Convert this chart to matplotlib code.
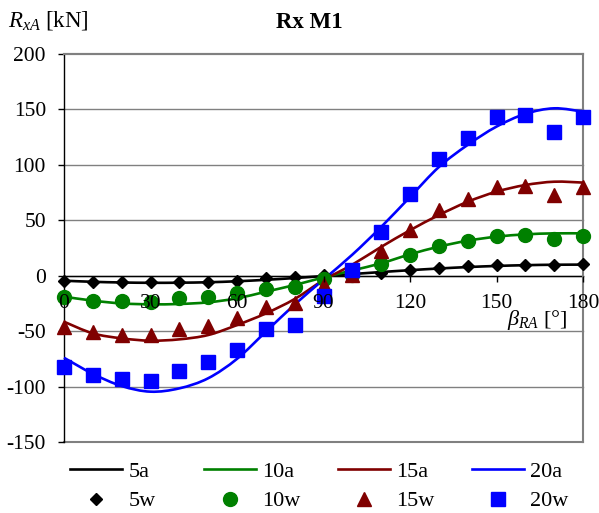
import matplotlib
matplotlib.use("Agg")
import matplotlib.pyplot as plt
from matplotlib.path import Path
from matplotlib.patches import PathPatch

plt.rcParams['font.family'] = ['Liberation Serif', 'DejaVu Serif']
plt.rcParams['mathtext.fontset'] = 'custom'
plt.rcParams['mathtext.rm'] = 'Liberation Serif'
plt.rcParams['mathtext.it'] = 'Liberation Serif:italic'
plt.rcParams['axes.unicode_minus'] = False

# kąt beta_RA [deg]
beta = [0, 10, 20, 30, 40, 50, 60, 70, 80, 90, 100, 110, 120, 130, 140, 150, 160, 170, 180]

# analityczne (a)
r5a = [-4.5, -5.5, -6.1, -6.4, -6.3, -5.9, -5.0, -3.7, -2.1, -0.3, 1.5, 3.3, 5.0, 6.5, 7.8, 8.8, 9.5, 9.9, 10.0]
r10a = [-18.9, -22.5, -25.0, -25.8, -25.5, -24.0, -20.4, -14.4, -8.4, -1.5, 4.8, 11.2, 19.3, 26.2, 31.6, 35.2, 37.3, 38.2, 38.2]
r15a = [-41.5, -52.0, -56.5, -58.6, -57.4, -53.5, -44.5, -34.0, -21.0, -4.0, 10.0, 26.0, 41.0, 54.7, 66.7, 75.8, 81.8, 84.8, 84.0]
r20a = [-74.0, -88.5, -99.5, -104.6, -101.6, -92.5, -75.0, -50.5, -26.0, -3.5, 19.0, 44.0, 71.0, 98.0, 118.0, 134.5, 146.0, 151.0, 148.0]

# wyniki (w)
r5w = [-5.0, -5.5, -6.0, -6.0, -6.0, -5.5, -4.5, -2.0, -1.0, 0.5, 1.0, 2.7, 5.1, 6.7, 8.7, 9.9, 9.9, 9.3, 10.2]
r10w = [-19.5, -22.7, -23.0, -24.0, -20.2, -19.2, -15.3, -12.0, -10.5, -3.3, 1.0, 10.5, 18.7, 27.0, 31.6, 36.0, 36.7, 32.8, 35.8]
r15w = [-46.6, -50.5, -53.3, -53.5, -48.2, -45.2, -38.0, -28.0, -24.6, -8.4, 1.0, 22.6, 41.2, 59.3, 69.5, 79.7, 80.9, 72.8, 80.3]
r20w = [-82.0, -89.8, -93.5, -94.8, -85.7, -78.2, -67.0, -48.0, -44.5, -18.0, 5.5, 39.7, 73.7, 105.5, 124.5, 143.4, 145.0, 130.0, 143.4]

labels_a = ['5a', '10a', '15a', '20a']
labels_w = ['5w', '10w', '15w', '20w']
colors = ['black', '#008000', '#800000', '#0000ff']
markers = ['D', 'o', '^', 's']
msizes = [6.5, 10, 9.5, 9.5]


def smooth_path(x, y):
    # wygładzona linia jak w Excelu: krzywe Beziera przez kolejne punkty
    verts = [(x[0], y[0])]
    codes = [Path.MOVETO]
    n = len(x)
    for i in range(n - 1):
        x0, y0 = (x[i - 1], y[i - 1]) if i > 0 else (x[i], y[i])
        x3, y3 = (x[i + 2], y[i + 2]) if i + 2 < n else (x[i + 1], y[i + 1])
        c1 = (x[i] + (x[i + 1] - x0) / 6, y[i] + (y[i + 1] - y0) / 6)
        c2 = (x[i + 1] - (x3 - x[i]) / 6, y[i + 1] - (y3 - y[i]) / 6)
        verts += [c1, c2, (x[i + 1], y[i + 1])]
        codes += [Path.CURVE4] * 3
    return Path(verts, codes)


W, H = 599, 513
fig = plt.figure(figsize=(W / 100, H / 100), dpi=100)
ax = fig.add_axes([64 / W, 1 - 442 / H, (583 - 64) / W, (442 - 54) / H])

ax.set_xlim(0, 180)
ax.set_ylim(-150, 200)
ax.set_xticks(range(0, 181, 30))
ax.set_yticks(range(-150, 201, 50))

# siatka pozioma pod seriami
for yv in range(-150, 201, 50):
    ax.axhline(yv, color='#808080', lw=1.0 if -150 < yv < 200 else 1.5,
               clip_on=False, zorder=0.5)

lines = []
for y, c, lab in zip([r5a, r10a, r15a, r20a], colors, labels_a):
    patch = PathPatch(smooth_path(beta, y), fill=False, edgecolor=c, lw=1.9,
                      clip_on=False, zorder=3)
    ax.add_patch(patch)
    l, = ax.plot([], [], color=c, lw=1.9, label=lab)
    lines.append(l)

pts = []
for y, c, m, ms, lab in zip([r5w, r10w, r15w, r20w], colors, markers, msizes, labels_w):
    p, = ax.plot(beta, y, ls='none', marker=m, ms=ms, color=c, mec=c,
                 label=lab, clip_on=False, zorder=4)
    pts.append(p)

ax.spines['bottom'].set_position(('data', 0))
ax.spines['bottom'].set_color('black')
ax.spines['bottom'].set_linewidth(1.0)
ax.spines['bottom'].set_zorder(1)
ax.spines['left'].set_color('black')
ax.spines['left'].set_linewidth(1.0)
for s in ['top', 'right']:
    ax.spines[s].set_color('#808080')
    ax.spines[s].set_linewidth(1.5)

ax.tick_params(axis='y', direction='out', length=4, width=1, pad=9, labelsize=15.5)
ax.tick_params(axis='x', direction='out', length=4, width=1, pad=9.5, labelsize=15.5)
ax.xaxis.set_zorder(5)

fig.text(309 / W, 1 - 23 / H, 'Rx M1', ha='center', va='center',
         fontsize=16.5, fontweight='bold')
fig.text(8 / W, 1 - 21 / H, r'$R_{xA}$ [kN]', ha='left', va='center', fontsize=16.5)
fig.text(568 / W, 1 - 320 / H, r'$\beta_{RA}$ [°]', ha='right', va='center', fontsize=16)

# legenda: cztery kolumny, linia nad punktami
col_x = [70, 204, 338, 472]
for i in range(4):
    fig.legend(handles=[lines[i], pts[i]], loc='upper left',
               bbox_to_anchor=(col_x[i] / W, 1 - 461 / H),
               frameon=False, fontsize=16, handlelength=2.35,
               handletextpad=0.28, labelspacing=0.42, borderpad=0,
               borderaxespad=0, numpoints=1)

fig.savefig('out.png', dpi=100)
